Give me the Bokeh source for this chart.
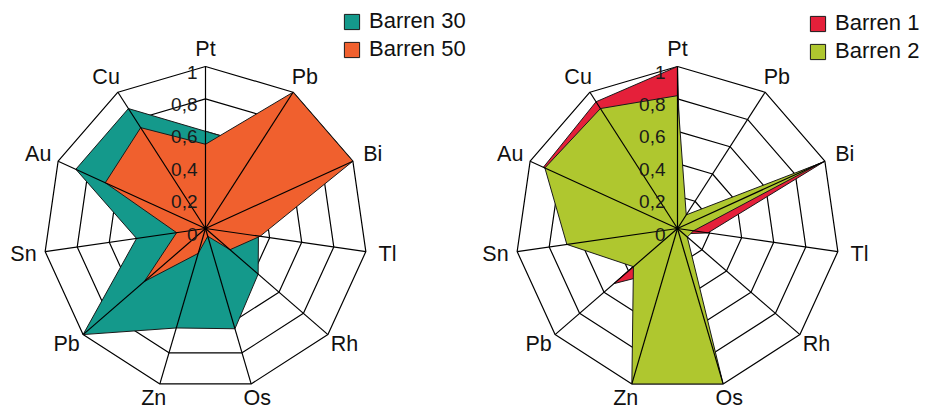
import numpy as np
from bokeh.plotting import figure
from bokeh.layouts import row
from bokeh.models import Legend, LegendItem, Range1d
from bokeh.embed import file_html
from bokeh.resources import INLINE
from bokeh.core.properties import value

# ---- data ----
axis_labels = ["Pt", "Pb", "Bi", "Tl", "Rh", "Os", "Zn", "Pb", "Sn", "Au", "Cu"]
tick_values = [0, 0.2, 0.4, 0.6, 0.8, 1.0]
tick_labels = ["0", "0,2", "0,4", "0,6", "0,8", "1"]

barren_30 = [0.60, 0.60, 0.60, 0.33, 0.43, 0.645, 0.64, 1.00, 0.43, 0.88, 0.88]
barren_50 = [0.52, 1.00, 1.00, 0.34, 0.20, 0.05, 0.16, 0.50, 0.18, 0.68, 0.74]
barren_1 = [1.00, 0.05, 1.00, 0.19, 0.05, 0.95, 0.27, 0.52, 0.02, 0.91, 0.93]
barren_2 = [0.82, 0.10, 0.97, 0.10, 0.08, 1.00, 1.00, 0.36, 0.69, 0.90, 0.88]

FONT = "Liberation Sans"
H = 412


def make_radar(width, cx_px, cy_px, scale, series, legend_xy, tick_dx_px):
    p = figure(width=width, height=H, output_backend="svg", toolbar_location=None,
               x_range=Range1d(-cx_px / scale, (width - cx_px) / scale),
               y_range=Range1d(-(H - cy_px) / scale, cy_px / scale),
               min_border=0)
    p.axis.visible = False
    p.xgrid.visible = False
    p.ygrid.visible = False
    p.outline_line_color = None
    p.background_fill_color = "white"

    n = len(axis_labels)
    ang = np.arange(n) * 2 * np.pi / n
    sx, sy = np.sin(ang), np.cos(ang)

    # rings
    ring_xs = [list(np.append(t * sx, t * sx[0])) for t in tick_values[1:]]
    ring_ys = [list(np.append(t * sy, t * sy[0])) for t in tick_values[1:]]
    p.multi_line(xs=ring_xs, ys=ring_ys, line_color="black", line_width=1.2)

    # filled series
    items = []
    for name, vals, color in series:
        v = np.array(vals)
        r = p.patch(list(v * sx), list(v * sy), fill_color=color, fill_alpha=1.0,
                    line_color="#1a1a1a", line_width=1.0)
        items.append(LegendItem(label=name, renderers=[r]))

    # spokes on top
    p.segment(x0=[0] * n, y0=[0] * n, x1=list(sx), y1=list(sy),
              line_color="black", line_width=1.2)

    # axis labels
    ly = np.where(sy > 0, 1.11 * sy, 1.09 * sy)
    p.text(x=list(1.135 * sx), y=list(ly), text=axis_labels,
           text_font=value(FONT), text_font_size="21.5px", text_color="#111111",
           text_align="center", text_baseline="middle")

    # tick labels along Pt axis
    p.text(x=[-tick_dx_px / scale] * len(tick_values),
           y=[t - 5.5 / scale for t in tick_values], text=tick_labels,
           text_font=value(FONT), text_font_size="19px", text_color="#1a1a1a",
           text_align="right", text_baseline="middle")

    legend = Legend(items=items, location=legend_xy, orientation="vertical",
                    glyph_width=19, glyph_height=19, label_height=19, spacing=2,
                    padding=0, margin=0, border_line_color=None,
                    background_fill_alpha=0, label_standoff=8,
                    label_text_font=FONT, label_text_font_size="22px",
                    label_text_color="#111111")
    p.add_layout(legend)
    return p


p1 = make_radar(470, 205, 228, 162,
                [("Barren 30", barren_30, "#14998b"),
                 ("Barren 50", barren_50, "#f0602e")],
                (342, 350), 8)
p2 = make_radar(465, 207, 228, 162,
                [("Barren 1", barren_1, "#e5203a"),
                 ("Barren 2", barren_2, "#afc72f")],
                (338, 348), 12)

layout = row(p1, p2)
open("out.html", "w").write(file_html(layout, INLINE))
